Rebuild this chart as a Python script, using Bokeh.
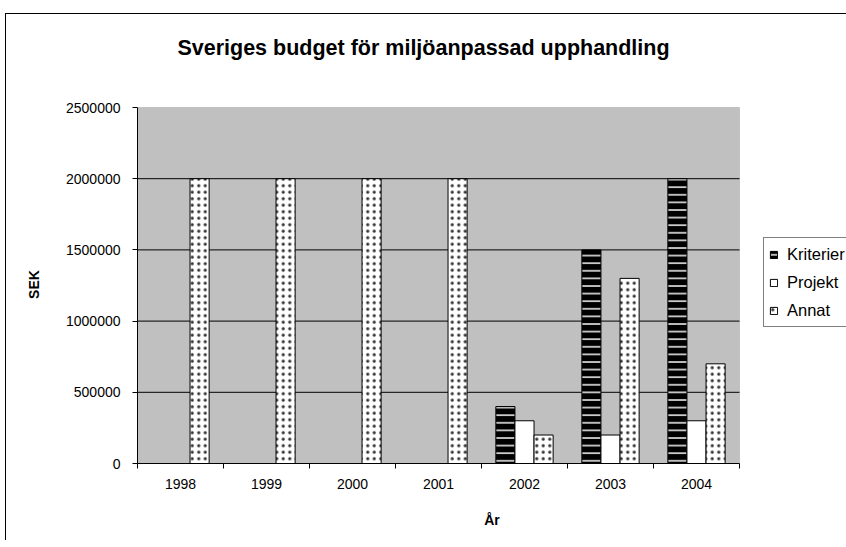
from bokeh.plotting import figure
from bokeh.models import (ColumnDataSource, Range1d, FixedTicker, Legend, LegendItem,
                          Label, BasicTickFormatter, BoxAnnotation)
from bokeh.transform import dodge
from bokeh.embed import file_html
from bokeh.resources import INLINE

years = ["1998", "1999", "2000", "2001", "2002", "2003", "2004"]
kriterier = [0, 0, 0, 0, 400000, 1500000, 2000000]
projekt = [0, 0, 0, 0, 300000, 200000, 300000]
annat = [2000000, 2000000, 2000000, 2000000, 200000, 1300000, 700000]
y_ticks = [0, 500000, 1000000, 1500000, 2000000, 2500000]

FONT = "Liberation Sans"
W, H = 846, 540
FL, FB = 137, 77                    # frame left / bottom borders (px)
PLOT_W, PLOT_H = 602, 356           # size of the gray plot area (px)
n = len(years)
ymax = y_ticks[-1]
xmax = n * (W - FL) / PLOT_W        # extend ranges so legend and title fit inside the frame
ytop = ymax * (H - FB) / PLOT_H

xs = [i + 0.5 for i in range(n)]
src = ColumnDataSource(dict(x=xs, kriterier=kriterier, projekt=projekt, annat=annat))

p = figure(width=W, height=H, x_range=Range1d(0, xmax), y_range=Range1d(0, ytop),
           output_backend="svg", toolbar_location=None,
           min_border_left=FL, min_border_right=0, min_border_top=0, min_border_bottom=FB,
           background_fill_color="white", background_fill_alpha=0,
           border_fill_color="white", border_fill_alpha=0,
           outline_line_color=None)
p.title.visible = False
p.styles = {
    "background": "linear-gradient(#000,#000) 5px 13px / 1px 2000px no-repeat, "
                  "linear-gradient(#000,#000) 5px 13px / 2000px 1px no-repeat, #fff"
}

# gray plot area
p.add_layout(BoxAnnotation(left=0, right=n, bottom=0, top=ymax, fill_color="#C0C0C0",
                           fill_alpha=1, line_color="#808080", line_width=1, level="underlay"))

# grid lines (only across plot area)
p.xgrid.visible = False
p.ygrid.visible = False
gy = y_ticks[1:-1]
p.segment(x0=[0] * len(gy), x1=[n] * len(gy), y0=gy, y1=gy, line_color="black", line_width=1)

bw = 0.222
r1 = p.vbar(x=dodge("x", -bw, range=p.x_range), top="kriterier", width=bw, source=src,
            fill_color="black", line_color="black", line_width=1,
            hatch_pattern="horizontal_line", hatch_color="#e6e6e6", hatch_scale=7.6, hatch_weight=1.6)
r2 = p.vbar(x="x", top="projekt", width=bw, source=src,
            fill_color="white", line_color="black", line_width=1)
r3 = p.vbar(x=dodge("x", bw, range=p.x_range), top="annat", width=bw, source=src,
            fill_color="white", line_color="black", line_width=1,
            hatch_pattern="dot", hatch_color="#333333", hatch_scale=6.5, hatch_weight=2)

# title
p.add_layout(Label(x=286, y=416, x_units="screen", y_units="screen",
                   text="Sveriges budget för miljöanpassad upphandling",
                   text_align="center", text_baseline="middle",
                   text_font=FONT, text_font_size="21.5px", text_font_style="bold",
                   text_color="black"))

# y axis
ya = p.yaxis[0]
ya.bounds = (0, ymax)
ya.ticker = FixedTicker(ticks=y_ticks, minor_ticks=[])
ya.formatter = BasicTickFormatter(use_scientific=False)
ya.major_tick_in = 0
ya.major_tick_out = 5
ya.minor_tick_out = 0
ya.minor_tick_in = 0
ya.major_label_standoff = 12
ya.major_label_text_font = FONT
ya.major_label_text_font_size = "14px"
ya.major_label_text_color = "black"
ya.axis_line_color = "black"
ya.major_tick_line_color = "black"
# label padded with no-break spaces so it centres on the gray plot area
ya.axis_label = "SEK" + "\u00a0" * 27
ya.axis_label_text_font = FONT
ya.axis_label_text_font_size = "14px"
ya.axis_label_text_font_style = "bold"
ya.axis_label_text_color = "black"
ya.axis_label_standoff = 21

# x axis
xa = p.xaxis[0]
xa.bounds = (0, n)
xa.ticker = FixedTicker(ticks=xs, minor_ticks=list(range(n + 1)))
xa.major_label_overrides = {x: y for x, y in zip(xs, years)}
xa.major_tick_in = 0
xa.major_tick_out = 0
xa.minor_tick_in = 0
xa.minor_tick_out = 5
xa.minor_tick_line_color = "black"
xa.major_label_standoff = 10
xa.major_label_text_font = FONT
xa.major_label_text_font_size = "14px"
xa.major_label_text_color = "black"
xa.axis_line_color = "black"
xa.axis_label = "År"
xa.axis_label_text_font = FONT
xa.axis_label_text_font_size = "14px"
xa.axis_label_text_font_style = "bold"
xa.axis_label_text_color = "black"
xa.axis_label_standoff = 20

legend = Legend(items=[LegendItem(label="Kriterier", renderers=[r1]),
                       LegendItem(label="Projekt", renderers=[r2]),
                       LegendItem(label="Annat", renderers=[r3])],
                location=(626, 136), margin=0, padding=5, spacing=6,
                label_height=22, glyph_height=9, glyph_width=9, label_standoff=9,
                label_text_font=FONT, label_text_font_size="16.5px", label_text_color="black",
                border_line_color="black", border_line_width=1,
                background_fill_color="white", background_fill_alpha=1)
p.add_layout(legend)

open("out.html", "w").write(file_html(p, INLINE))
